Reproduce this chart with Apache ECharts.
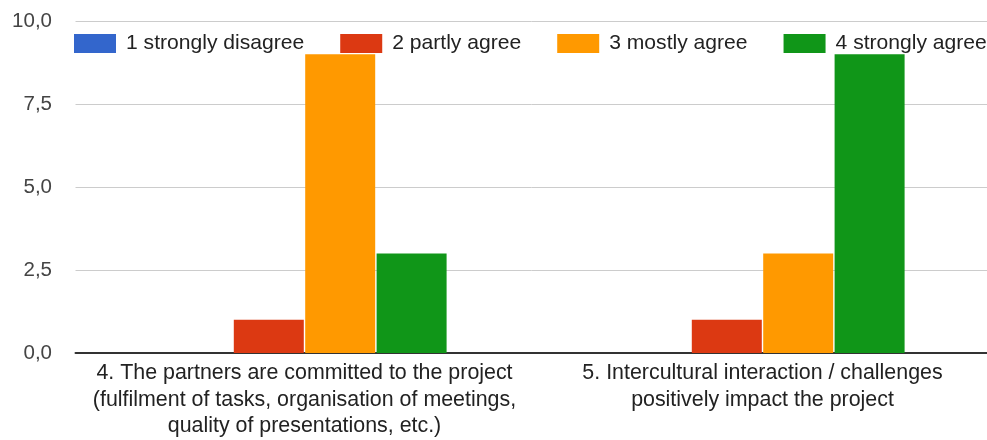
<!DOCTYPE html>
<html>
<head>
<meta charset="utf-8">
<script src="https://cdn.jsdelivr.net/npm/echarts@6/dist/echarts.min.js"></script>
<style>html,body{margin:0;padding:0;background:#fff}#c{width:987px;height:440px}</style>
</head>
<body>
<div id="c"></div>
<script>
var categories = [
  "4. The partners are committed to the project\n(fulfilment of tasks, organisation of meetings,\nquality of presentations, etc.)",
  "5. Intercultural interaction / challenges\npositively impact the project"
];
var seriesNames = ["1 strongly disagree", "2 partly agree", "3 mostly agree", "4 strongly agree"];
var stronglyDisagree = [0, 0];
var partlyAgree = [1, 1];
var mostlyAgree = [9, 3];
var stronglyAgree = [3, 9];
var colors = ["#3366cc", "#dc3912", "#ff9900", "#109618"];

var font = "'Liberation Sans', Arial, sans-serif";
var chart = echarts.init(document.getElementById('c'));
var dataSets = [stronglyDisagree, partlyAgree, mostlyAgree, stronglyAgree];
chart.setOption({
  animation: false,
  color: colors,
  textStyle: { fontFamily: font },
  legend: {
    left: 74, top: 33, width: 940, padding: 0,
    itemWidth: 42, itemHeight: 19, itemGap: 36,
    icon: 'rect',
    textStyle: { fontSize: 21.1, color: '#222', fontFamily: font, padding: [0, 0, 0, 5] },
    data: seriesNames
  },
  grid: { left: 75.5, width: 916, top: 21, bottom: 87, containLabel: false, outerBoundsMode: 'none' },
  xAxis: {
    type: 'category',
    data: categories,
    axisTick: { show: false },
    axisLine: { lineStyle: { color: '#333', width: 2 } },
    axisLabel: { fontSize: 21.4, lineHeight: 26.5, color: '#222', margin: 7, interval: 0, fontFamily: font }
  },
  yAxis: {
    type: 'value', min: 0, max: 10, interval: 2.5,
    axisLine: { show: false }, axisTick: { show: false },
    splitLine: { lineStyle: { color: '#cccccc', width: 1 } },
    axisLabel: { fontSize: 20.5, color: '#444', margin: 23.5, fontFamily: font,
      formatter: function (v) { return v.toFixed(1).replace('.', ','); } }
  },
  series: seriesNames.map(function (n, i) {
    return { name: n, type: 'bar', data: dataSets[i], barWidth: 70, barGap: '2%' };
  })
});
</script>
</body>
</html>
